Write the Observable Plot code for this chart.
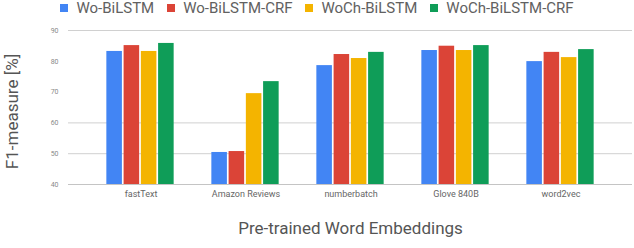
<!DOCTYPE html>
<html>
<head>
<meta charset="utf-8">
<script src="https://cdn.jsdelivr.net/npm/d3@7"></script>
<script src="https://cdn.jsdelivr.net/npm/@observablehq/plot@0.6"></script>
<style>
  html, body { margin: 0; padding: 0; background: #fff; }
  #wrap { position: relative; width: 634px; height: 248px; overflow: hidden; font-family: Roboto, sans-serif; }
  #legend { position: absolute; top: 0; left: 0; width: 634px; display: flex; justify-content: center; }
  #legend .lg-swatches { font-family: Roboto, sans-serif; font-size: 15px; color: #616161; margin: 0; min-height: 16px; line-height: 16px; display:flex; }
  #legend .lg-swatch { margin-right: 13px; }
  #legend .lg-swatch:last-child { margin-right: 0; }
  #legend .lg-swatch > svg { margin-right: 8px; }
  #chart { position: absolute; top: 0; left: 0; }
</style>
</head>
<body>
<div id="wrap"><div id="chart"></div><div id="legend"></div></div>
<script>
const categories = ["fastText", "Amazon Reviews", "numberbatch", "Glove 840B", "word2vec"];
const seriesNames = ["Wo-BiLSTM", "Wo-BiLSTM-CRF", "WoCh-BiLSTM", "WoCh-BiLSTM-CRF"];
const seriesColors = ["#4285F4", "#DB4437", "#F4B400", "#0F9D58"];
const woBiLSTM      = [83.2, 50.4, 78.6, 83.5, 79.9];
const woBiLSTMCRF   = [85.1, 50.7, 82.2, 84.9, 82.9];
const wochBiLSTM    = [83.2, 69.5, 80.9, 83.5, 81.2];
const wochBiLSTMCRF = [85.8, 73.4, 82.9, 85.1, 83.8];
const yTicks = [40, 50, 60, 70, 80, 90];
const visibleGridLines = [50, 60, 90];

const seriesValues = [woBiLSTM, woBiLSTMCRF, wochBiLSTM, wochBiLSTMCRF];

const W = 634, H = 248;
const mL = 68, mR = 2, mT = 30, mB = 64;
const po = 0.168;
const step = (W - mL - mR) / (categories.length + 2 * po);
const groupW = 69, slot = groupW / 4, barW = slot - 1;

const barMarks = seriesValues.map((vals, i) => {
  const insetLeft = (step - groupW) / 2 + i * slot;
  const insetRight = step - insetLeft - barW;
  return Plot.barY(categories, {
    x: d => d,
    y1: 40,
    y2: (d, j) => vals[j],
    fill: seriesColors[i],
    insetLeft, insetRight
  });
});

const chart = Plot.plot({
  width: W, height: H,
  marginLeft: mL, marginRight: mR, marginTop: mT, marginBottom: mB,
  style: { fontFamily: "Roboto, sans-serif", background: "#fff" },
  x: { type: "band", domain: categories, paddingInner: 0, paddingOuter: po },
  y: { domain: [40, 90] },
  marks: [
    Plot.gridY(visibleGridLines, { stroke: "#d0d0d0", strokeOpacity: 1 }),
    ...barMarks,
    Plot.ruleY([40], { stroke: "#c4c4c4", strokeWidth: 1 }),
    Plot.axisY(yTicks, { tickSize: 0, tickPadding: 10, fontSize: 7, color: "#8a8a8a", label: null }),
    Plot.axisX({ tickSize: 0, tickPadding: 6, fontSize: 9, color: "#666", label: null }),
    Plot.text(["F1-measure [%]"], { frameAnchor: "left", textAnchor: "middle", dx: -56, dy: 4, rotate: -90, fontSize: 17, fill: "#555" }),
    Plot.text(["Pre-trained Word Embeddings"], { frameAnchor: "bottom", dy: 49, fontSize: 17, fill: "#555" })
  ]
});
document.getElementById("chart").appendChild(chart);

const legend = Plot.legend({
  color: { type: "ordinal", domain: seriesNames, range: seriesColors },
  swatchSize: 8,
  className: "lg"
});
document.getElementById("legend").appendChild(legend);
</script>
</body>
</html>
